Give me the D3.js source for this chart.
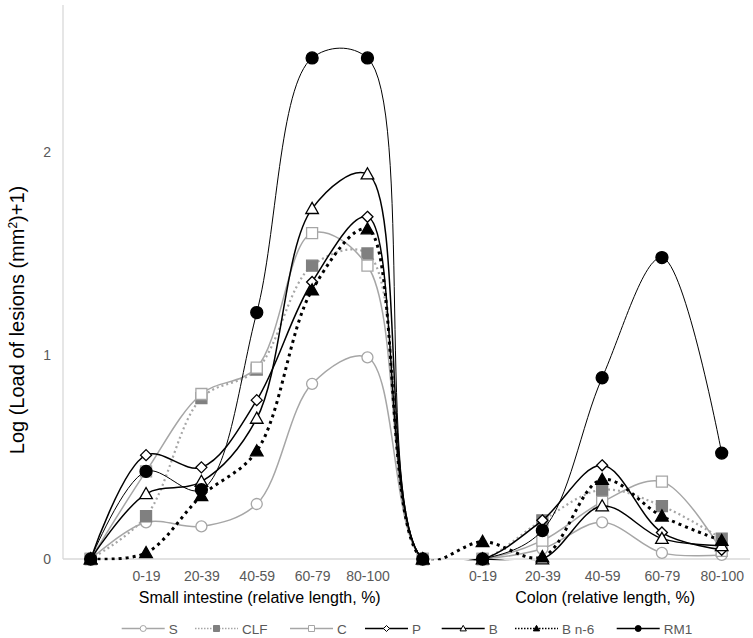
<!DOCTYPE html>
<html><head><meta charset="utf-8">
<script src="https://cdn.jsdelivr.net/npm/d3@7"></script>
<style>
html,body{margin:0;padding:0;background:#fff;}
svg{display:block;font-family:"Liberation Sans",Arial,sans-serif;}
</style></head>
<body><svg id="chart" width="753" height="638"></svg>
<script>
// ---- data ----
const categories = ["", "0-19", "20-39", "40-59", "60-79", "80-100", "", "0-19", "20-39", "40-59", "60-79", "80-100"];
const xValues = [0, 1, 2, 3, 4, 5, 6, 7.08, 8.16, 9.24, 10.32, 11.4];
const sValues   = [0, 0.18, 0.16, 0.27, 0.86, 0.99, 0, 0, 0.05, 0.18, 0.03, 0.02];
const clfValues = [0, 0.21, 0.79, 0.93, 1.44, 1.50, 0, 0, 0.19, 0.34, 0.26, 0.10];
const cValues   = [0, 0.43, 0.81, 0.94, 1.60, 1.44, 0, 0, 0.09, 0.28, 0.38, 0.04];
const pValues   = [0, 0.51, 0.45, 0.78, 1.36, 1.68, 0, 0, 0.19, 0.46, 0.13, 0.045];
const bValues   = [0, 0.32, 0.38, 0.69, 1.72, 1.89, 0, 0, 0, 0.26, 0.10, 0.065];
const bn6Values = [0, 0.03, 0.31, 0.53, 1.32, 1.62, 0, 0.085, 0.01, 0.39, 0.21, 0.09];
const rm1Values = [0, 0.43, 0.34, 1.21, 2.46, 2.46, 0, 0, 0.14, 0.89, 1.48, 0.52];
const yTicks = [0, 1, 2];
const groupTitles = ["Small intestine (relative length, %)", "Colon (relative length, %)"];
const seriesNames = ["S", "CLF", "C", "P", "B", "B n-6", "RM1"];

// ---- styles ----
const styles = {
  "S":     {values: sValues,   stroke: "#a6a6a6", width: 1.5, dash: null,  marker: "circle",   mfill: "#fff", mstroke: "#a6a6a6"},
  "CLF":   {values: clfValues, stroke: "#a6a6a6", width: 2.2, dash: "2,3", marker: "square",   mfill: "#808080", mstroke: "#808080"},
  "C":     {values: cValues,   stroke: "#a6a6a6", width: 1.5, dash: null,  marker: "square",   mfill: "#fff", mstroke: "#a6a6a6"},
  "P":     {values: pValues,   stroke: "#000",    width: 1.5, dash: null,  marker: "diamond",  mfill: "#fff", mstroke: "#000"},
  "B":     {values: bValues,   stroke: "#000",    width: 1.5, dash: null,  marker: "triangle", mfill: "#fff", mstroke: "#000"},
  "B n-6": {values: bn6Values, stroke: "#000",    width: 3,   dash: "3,4", marker: "triangle", mfill: "#000", mstroke: "#000"},
  "RM1":   {values: rm1Values, stroke: "#000",    width: 1,   dash: null,  marker: "circle",   mfill: "#000", mstroke: "#000"}
};

const svg = d3.select("#chart");
const x = d3.scaleLinear().domain([0, 11.4]).range([90.7, 721.7]);
const y = d3.scaleLinear().domain([0, 2.72]).range([559, 5]);
const axisX = x(0) - 27.7;

svg.append("defs").append("clipPath").attr("id", "plotclip")
  .append("rect").attr("x", axisX).attr("y", 0).attr("width", 753 - axisX).attr("height", y(0) + 1.2);

// axes lines
svg.append("line").attr("x1", axisX).attr("x2", 750).attr("y1", y(0)).attr("y2", y(0))
  .attr("stroke", "#d9d9d9").attr("stroke-width", 1.3);
svg.append("line").attr("x1", axisX).attr("x2", axisX).attr("y1", y(0)).attr("y2", y(2.72))
  .attr("stroke", "#d9d9d9").attr("stroke-width", 1.3);

// y tick labels
const yAxis = d3.axisLeft(y).tickValues(yTicks).tickSize(0).tickPadding(12).tickFormat(d3.format("d"));
const gy = svg.append("g").attr("transform", `translate(${axisX},0)`).call(yAxis);
gy.select(".domain").remove();
gy.selectAll("text").attr("fill", "#595959").style("font-size", "14px").style("font-family", "'Liberation Sans',Arial,sans-serif");

// x tick labels
const xAxis = d3.axisBottom(x).tickValues(xValues).tickSize(0).tickPadding(12)
  .tickFormat((d, i) => categories[i]);
const gx = svg.append("g").attr("transform", `translate(0,${y(0)})`).call(xAxis);
gx.select(".domain").remove();
gx.selectAll("text").attr("fill", "#595959").style("font-size", "14px").style("font-family", "'Liberation Sans',Arial,sans-serif");

// group titles
const titleCenters = [(x(xValues[1]) + x(xValues[5])) / 2, (x(xValues[7]) + x(xValues[11])) / 2];
groupTitles.forEach((t, i) => {
  svg.append("text").attr("x", titleCenters[i] + 3).attr("y", 603).attr("text-anchor", "middle")
    .style("font-size", "16px").attr("fill", "#000").text(t);
});

// y title
const yt = svg.append("text").attr("transform", `translate(24,${320}) rotate(-90)`)
  .attr("text-anchor", "middle").style("font-size", "20px").attr("fill", "#000");
yt.append("tspan").text("Log (Load of lesions (mm");
yt.append("tspan").attr("dy", -7).style("font-size", "12px").text("2");
yt.append("tspan").attr("dy", 7).text(")+1)");

// marker paths
function markerPath(type, s) {
  const h = s / 2;
  if (type === "circle") return d3.symbol(d3.symbolCircle, Math.PI * h * h)();
  if (type === "square") return `M${-h},${-h}H${h}V${h}H${-h}Z`;
  if (type === "diamond") return `M0,${-h}L${h},0L0,${h}L${-h},0Z`;
  if (type === "triangle") return `M0,${-h * 1.05}L${h * 1.05},${h * 0.8}L${-h * 1.05},${h * 0.8}Z`;
}

const line = d3.line().x((d, i) => x(xValues[i])).y(d => y(d)).curve(d3.curveCatmullRom.alpha(0.5));

seriesNames.forEach(name => {
  const st = styles[name];
  const g = svg.append("g");
  g.append("path").datum(st.values).attr("d", line).attr("fill", "none")
    .attr("clip-path", "url(#plotclip)")
    .attr("stroke", st.stroke).attr("stroke-width", st.width)
    .attr("stroke-dasharray", st.dash);
  const size = name === "RM1" ? 12 : (st.marker === "triangle" ? 12 : 11);
  g.selectAll("path.m").data(st.values).join("path").attr("class", "m")
    .attr("transform", (d, i) => `translate(${x(xValues[i])},${y(d)})`)
    .attr("d", markerPath(st.marker, size))
    .attr("fill", st.mfill).attr("stroke", st.mstroke).attr("stroke-width", 1.3);
});

// legend
const legendX = [121.7, 195, 290, 365, 441.7, 515, 616.7];
const ly = 628.5;
seriesNames.forEach((name, i) => {
  const st = styles[name];
  const g = svg.append("g").attr("transform", `translate(${legendX[i]},${ly})`);
  g.append("line").attr("x1", 0).attr("x2", 43).attr("y1", 0).attr("y2", 0)
    .attr("stroke", st.stroke).attr("stroke-width", st.dash ? 1.5 : 1.3)
    .attr("stroke-dasharray", st.dash ? "1.5,1.5" : null);
  g.append("path").attr("transform", "translate(21.5,0)").attr("d", markerPath(st.marker, 6))
    .attr("fill", st.mfill).attr("stroke", st.mstroke).attr("stroke-width", 1);
  g.append("text").attr("x", 47).attr("y", 5).style("font-size", "13.5px").attr("fill", "#595959").text(name);
});
</script></body></html>
